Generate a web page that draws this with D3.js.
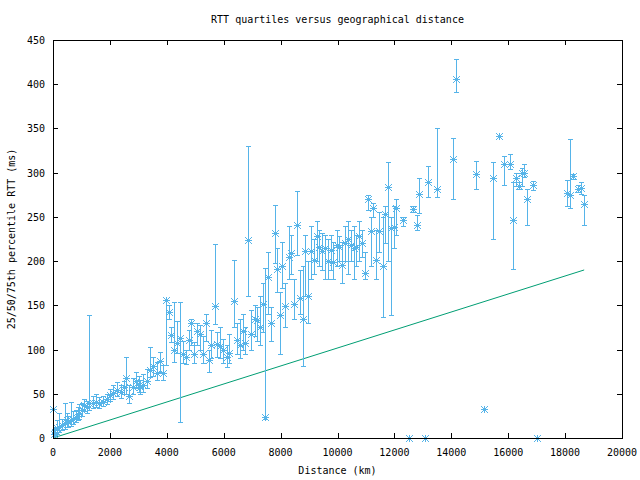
<!DOCTYPE html>
<html>
<head>
<meta charset="utf-8">
<script src="https://cdn.jsdelivr.net/npm/d3@7"></script>
<style>
  body { margin: 0; background: #fff; }
  text { font-family: "DejaVu Sans Mono", monospace; font-size: 10px; fill: #000; }
</style>
</head>
<body>
<svg id="chart" width="640" height="480"></svg>
<script>
// distance (km) and RTT quartiles (ms) per destination
const distance = [0, 35, 60, 130, 220, 305, 420, 480, 540, 620, 715, 810, 870, 925, 1010, 1100, 1185, 1280, 1395, 1510,
  1630, 1745, 1890, 2000, 2120, 2240, 2380, 2495, 2565, 2680, 2800, 2920, 3030, 3060, 3175, 3290, 3410, 3525, 3645, 3760,
  3880, 3970, 4090, 4150, 4250, 4370, 4470, 4580, 4675, 4790, 4860, 4955, 5070, 5170, 5285, 5380, 5470, 5565, 5680, 5750,
  5870, 5990, 6100, 6200, 6360, 6480, 6570, 6690, 6760, 6865, 6970, 7090, 7180, 7275, 7390, 7450, 7560, 7675, 7790, 7885,
  7980, 8050, 8165, 8285, 8380, 8470, 8590, 8680, 8775, 8870, 8960, 9080, 9175, 9290, 9360, 9455, 9550, 9665, 9760, 9850,
  9995, 10065, 10160, 10275, 10380, 10485, 10580, 10650, 10745, 10860, 10980, 11070, 11165, 11260, 11355, 11470, 11590, 11670, 11785, 11880,
  11985, 12055, 12290, 12500, 12665, 12780, 12875, 13060, 13190, 13485, 14070, 14165, 14870, 15160, 15455, 15680, 15850, 16065, 16180, 16275,
  16390, 16475, 16565, 16670, 16880, 17000, 18065, 18170, 18290, 18450, 18560, 18665];
const rttQ1 = [33, 2, 3, 5, 7, 9, 10, 12, 12, 14, 16, 18, 20, 22, 25, 30, 28, 32, 34, 35,
  34, 36, 38, 42, 44, 47, 45, 50, 50, 40, 50, 56, 52, 50, 52, 56, 69, 70, 66, 75,
  66, 82, 135, 108, 86, 96, 18, 85, 84, 100, 105, 85, 105, 100, 85, 110, 75, 90, 129, 92,
  90, 85, 80, 85, 125, 95, 90, 100, 95, 160, 100, 115, 110, 105, 120, 22, 140, 110, 198, 165,
  95, 170, 125, 180, 185, 135, 207, 140, 81, 160, 130, 180, 185, 200, 195, 190, 180, 180, 190, 180,
  195, 200, 175, 200, 185, 200, 180, 195, 200, 205, 180, 258, 195, 250, 180, 210, 137, 220, 200, 139,
  215, 230, 240, 0, 255, 235, 254, 0, 272, 272, 270, 391, 281, 33, 225, 341, 286, 304, 191, 285,
  282, 285, 295, 241, 280, 0, 262, 260, 293, 278, 276, 241];
const rttMedian = [33, 5, 6, 11, 13, 15, 17, 20, 18, 20, 22, 24, 27, 28, 32, 37, 35, 40, 40, 41,
  40, 41, 44, 49, 51, 54, 52, 58, 68, 47, 58, 64, 60, 58, 60, 64, 77, 81, 73, 87,
  73, 156, 143, 117, 100, 107, 113, 95, 92, 111, 130, 95, 121, 118, 95, 130, 88, 105, 149, 106,
  104, 100, 92, 96, 155, 111, 105, 121, 107, 224, 118, 134, 133, 126, 151, 24, 182, 130, 232, 191,
  139, 195, 149, 205, 209, 152, 241, 158, 135, 211, 161, 211, 201, 228, 216, 211, 215, 200, 212, 199,
  218, 216, 196, 221, 225, 218, 215, 216, 228, 220, 187, 270, 234, 260, 201, 234, 194, 253, 284, 238,
  239, 260, 247, 0, 259, 241, 276, 0, 289, 281, 316, 406, 298, 33, 294, 341, 310, 310, 246, 294,
  285, 300, 300, 270, 286, 0, 277, 275, 296, 282, 283, 265];
const rttQ3 = [33, 10, 12, 20, 28, 22, 40, 28, 25, 41, 30, 32, 35, 38, 40, 44, 42, 139, 48, 50,
  46, 48, 50, 55, 60, 63, 60, 65, 92, 60, 68, 75, 70, 66, 72, 78, 103, 92, 86, 97,
  82, 156, 150, 125, 154, 132, 154, 110, 100, 122, 135, 108, 130, 128, 115, 140, 100, 122, 219, 120,
  125, 112, 105, 118, 201, 130, 135, 140, 125, 330, 145, 150, 148, 160, 175, 192, 210, 148, 264, 215,
  165, 222, 175, 240, 230, 180, 279, 190, 194, 230, 200, 240, 225, 245, 235, 232, 230, 225, 230, 222,
  235, 228, 222, 240, 245, 235, 240, 230, 245, 235, 210, 275, 250, 266, 235, 255, 250, 262, 312, 250,
  262, 270, 250, 0, 262, 252, 294, 0, 307, 351, 339, 428, 313, 33, 312, 341, 319, 321, 290, 300,
  290, 305, 310, 281, 291, 0, 292, 338, 298, 286, 290, 275];

// propagation lower bound drawn as a line
const boundDistance = [0, 18670];
const boundRtt = [0, 190];

const xTicks = [0, 2000, 4000, 6000, 8000, 10000, 12000, 14000, 16000, 18000, 20000];
const yTicks = [0, 50, 100, 150, 200, 250, 300, 350, 400, 450];

const blue = "#56b4e9";
const green = "#009e73";

const svg = d3.select("#chart");
const plot = { left: 53, right: 622, top: 40, bottom: 438 };

const x = d3.scaleLinear().domain([0, 20000]).range([plot.left, plot.right]);
const y = d3.scaleLinear().domain([0, 450]).range([plot.bottom, plot.top]);

// ticks on all four sides, pointing inward
const tickLen = 5;
const tickG = svg.append("g").attr("stroke", "#000").attr("shape-rendering", "crispEdges");
xTicks.forEach(t => {
  const tx = Math.round(x(t)) + 0.5;
  tickG.append("line").attr("x1", tx).attr("x2", tx).attr("y1", plot.bottom).attr("y2", plot.bottom - tickLen);
  tickG.append("line").attr("x1", tx).attr("x2", tx).attr("y1", plot.top).attr("y2", plot.top + tickLen);
});
yTicks.forEach(t => {
  const ty = Math.round(y(t)) + 0.5;
  tickG.append("line").attr("x1", plot.left).attr("x2", plot.left + tickLen).attr("y1", ty).attr("y2", ty);
  tickG.append("line").attr("x1", plot.right).attr("x2", plot.right - tickLen).attr("y1", ty).attr("y2", ty);
});

svg.append("g").selectAll("text").data(xTicks).join("text")
  .attr("x", d => x(d)).attr("y", plot.bottom + 18)
  .attr("text-anchor", "middle")
  .text(d => d);

svg.append("g").selectAll("text").data(yTicks).join("text")
  .attr("x", plot.left - 8).attr("y", d => y(d) + 4)
  .attr("text-anchor", "end")
  .text(d => d);

// lower bound line
const bound = boundDistance.map((d, i) => [d, boundRtt[i]]);
svg.append("path")
  .attr("d", d3.line().x(d => x(d[0])).y(d => y(d[1]))(bound))
  .attr("fill", "none")
  .attr("stroke", green)
  .attr("stroke-width", 1);

// error bars
const points = distance.map((d, i) => ({ d, q1: rttQ1[i], med: rttMedian[i], q3: rttQ3[i] }));
const capW = 2.5;
const bars = svg.append("g").attr("stroke", blue).attr("stroke-width", 1).attr("shape-rendering", "crispEdges");
points.filter(p => p.q3 > p.q1).forEach(p => {
  const px = Math.round(x(p.d)) + 0.5;
  const y1 = Math.round(y(p.q1)) + 0.5, y3 = Math.round(y(p.q3)) + 0.5;
  bars.append("line").attr("x1", px).attr("x2", px).attr("y1", y1).attr("y2", y3);
  bars.append("line").attr("x1", px - capW).attr("x2", px + capW).attr("y1", y1).attr("y2", y1);
  bars.append("line").attr("x1", px - capW).attr("x2", px + capW).attr("y1", y3).attr("y2", y3);
});

// star markers at the median
const s = 3.5;
const starPath = `M${-s},0H${s}M0,${-s}V${s}M${-s},${-s}L${s},${s}M${-s},${s}L${s},${-s}`;
svg.append("g").selectAll("path").data(points).join("path")
  .attr("transform", p => `translate(${Math.round(x(p.d)) + 0.5},${Math.round(y(p.med)) + 0.5})`)
  .attr("d", starPath)
  .attr("fill", "none")
  .attr("stroke", blue)
  .attr("stroke-width", 1);

// frame
svg.append("rect")
  .attr("x", plot.left + 0.5).attr("y", plot.top + 0.5)
  .attr("width", plot.right - plot.left).attr("height", plot.bottom - plot.top)
  .attr("fill", "none").attr("stroke", "#000").attr("shape-rendering", "crispEdges");

svg.append("text").attr("x", (plot.left + plot.right) / 2).attr("y", 23)
  .attr("text-anchor", "middle")
  .text("RTT quartiles versus geographical distance");

svg.append("text").attr("x", (plot.left + plot.right) / 2).attr("y", 474)
  .attr("text-anchor", "middle")
  .text("Distance (km)");

svg.append("text")
  .attr("transform", `translate(15,${(plot.top + plot.bottom) / 2}) rotate(-90)`)
  .attr("text-anchor", "middle")
  .text("25/50/75th percentile RTT (ms)");
</script>
</body>
</html>
